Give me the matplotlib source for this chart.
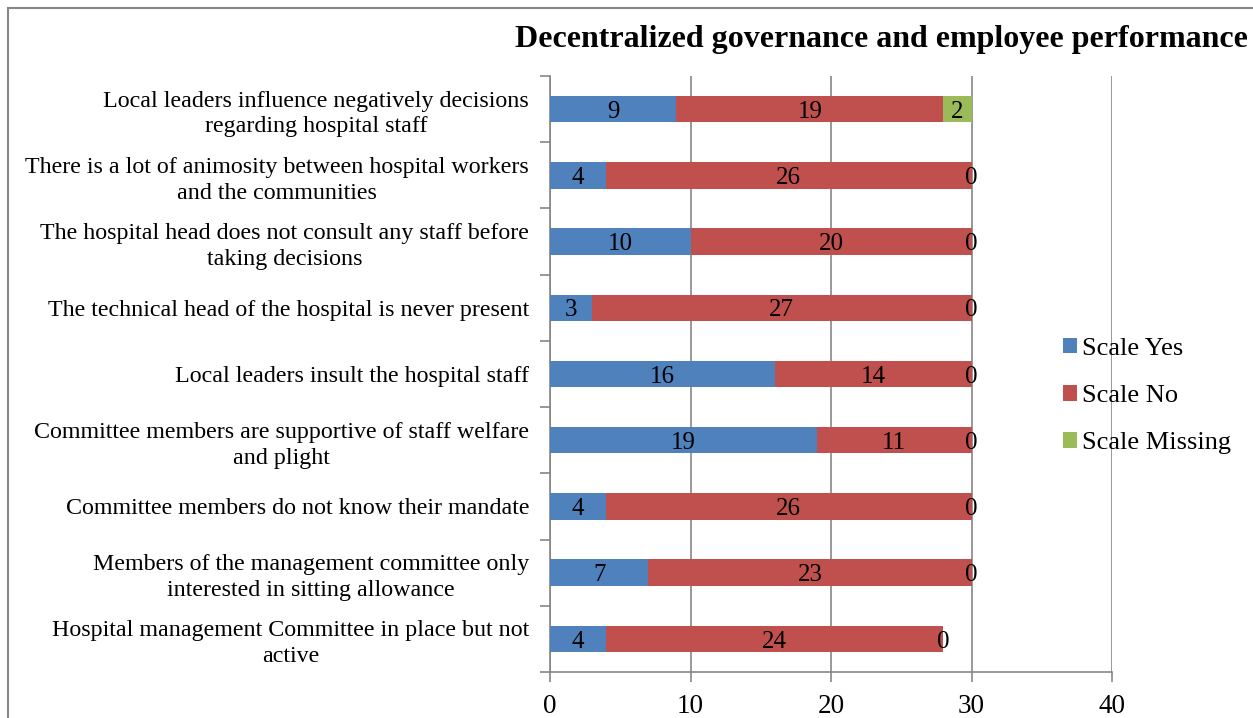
import numpy as np
import matplotlib.pyplot as plt
from matplotlib.patches import Rectangle

plt.rcParams['font.family'] = ['Liberation Serif', 'DejaVu Serif']

# Categories, top to bottom as shown.
categories = [
    'Local leaders influence negatively decisions\nregarding hospital staff',
    'There is a lot of animosity between hospital workers\nand the communities',
    'The hospital head does not consult any staff before\ntaking decisions',
    'The technical head of the hospital is never present',
    'Local leaders insult the hospital staff',
    'Committee members are supportive of staff welfare\nand plight',
    'Committee members do not know their mandate',
    'Members of the management committee only\ninterested in sitting allowance',
    'Hospital management Committee in place but not\nactive',
]
scale_yes = [9, 4, 10, 3, 16, 19, 4, 7, 4]
scale_no = [19, 26, 20, 27, 14, 11, 26, 23, 24]
scale_missing = [2, 0, 0, 0, 0, 0, 0, 0, 0]

series = [('Scale Yes', scale_yes, '#4F81BD'),
          ('Scale No', scale_no, '#C0504D'),
          ('Scale Missing', scale_missing, '#9BBB59')]

W, H = 1253, 718
fig = plt.figure(figsize=(W / 100, H / 100), dpi=100)
ax = fig.add_axes([550 / W, 1 - 672 / H, (1112 - 550) / W, (672 - 76) / H])

y = np.arange(len(categories))
left = np.zeros(len(categories))
for name, vals, color in series:
    vals = np.array(vals, dtype=float)
    ax.barh(y, vals, left=left, height=0.4, color=color, label=name, zorder=3)
    for yi, l, v in zip(y, left, vals):
        ax.text(l + v / 2, yi + 0.04, '{:d}'.format(int(v)), ha='center', va='center',
                fontsize=18, zorder=4)
    left = left + vals

ax.set_ylim(len(categories) - 0.5, -0.5)
ax.set_xlim(0, 40)
ax.set_xticks([0, 10, 20, 30, 40])
ax.set_yticks(y)
ax.set_yticklabels(categories, fontsize=17.3, multialignment='center', linespacing=1.3)
ax.set_yticks(np.arange(len(categories) + 1) - 0.5, minor=True)
ax.tick_params(axis='y', which='major', length=0, pad=15)
ax.tick_params(axis='y', which='minor', length=7, color='#868686', width=1.2)
ax.tick_params(axis='x', length=7, color='#868686', width=1.2, labelsize=19.5, pad=9)

ax.grid(axis='x', color='#868686', linewidth=1.2, zorder=0)
for s in ['top', 'right']:
    ax.spines[s].set_visible(False)
for s in ['left', 'bottom']:
    ax.spines[s].set_color('#868686')
    ax.spines[s].set_linewidth(1.2)

ax.legend(loc='center left', bbox_to_anchor=(1052 / W, 1 - 396 / H), bbox_transform=fig.transFigure,
          frameon=False, fontsize=19, handlelength=0.55, handleheight=0.55, handletextpad=0.2,
          labelspacing=0.95, borderaxespad=0)

fig.text(881 / W, 1 - 40 / H, 'Decentralized governance and employee performance',
         ha='center', va='center', fontsize=23, fontweight='bold')

fig.patches.append(Rectangle((8 / W, -0.05), 1.1, 1 - 8 / H + 0.05, transform=fig.transFigure,
                             fill=False, edgecolor='#868686', linewidth=1.5))

fig.savefig('out.png', dpi=100)
